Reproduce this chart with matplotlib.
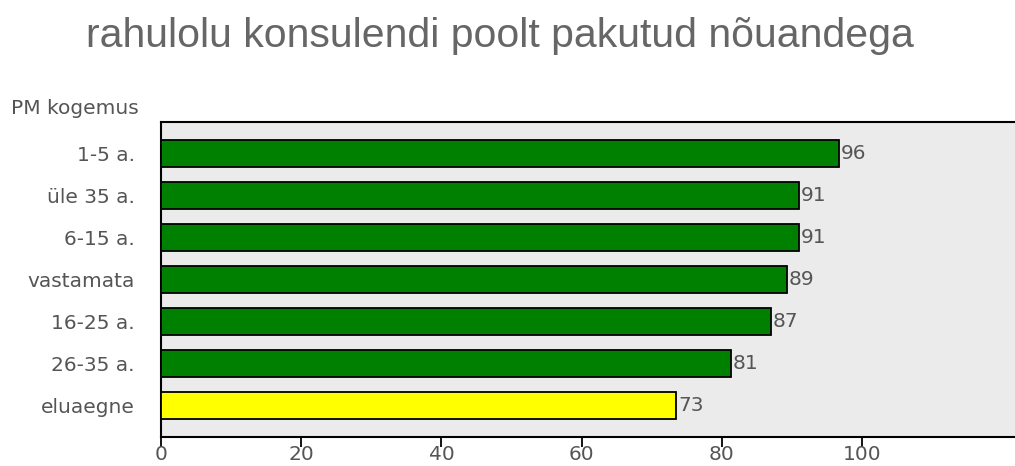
import matplotlib
matplotlib.use("Agg")
import matplotlib.pyplot as plt

categories = ["1-5 a.", "üle 35 a.", "6-15 a.", "vastamata", "16-25 a.", "26-35 a.", "eluaegne"]
values = [96.7, 91.0, 91.0, 89.3, 87.0, 81.3, 73.5]
value_labels = ["96", "91", "91", "89", "87", "81", "73"]
bar_colors = ["#008000"] * 6 + ["#FFFF00"]
x_ticks = [0, 20, 40, 60, 80, 100]
title = "rahulolu konsulendi poolt pakutud nõuandega"
axis_caption = "PM kogemus"

W, H = 1015, 466
fig = plt.figure(figsize=(W / 100, H / 100), dpi=100)
fig.patch.set_facecolor("white")
ax = fig.add_axes([161 / W, (H - 437) / H, (W - 161) / W, (437 - 122) / H])
ax.set_facecolor("#EBEBEB")

ypos = list(range(len(categories)))
ax.barh(ypos, values, height=0.64, color=bar_colors, edgecolor="black", linewidth=1.3, zorder=3)
ax.set_ylim(len(categories) - 0.25, -0.75)
ax.set_xlim(0, (W - 161) / 7.01)

txtcol = "#555555"
fs = 14.5
for y, v, lab in zip(ypos, values, value_labels):
    ax.text(v + 0.3, y, lab, va="center", ha="left", fontsize=fs, color=txtcol,
            family="DejaVu Sans", zorder=4)

ax.set_yticks(ypos)
ax.set_yticklabels(categories, fontsize=fs, color=txtcol, family="DejaVu Sans")
ax.tick_params(axis="y", length=0, pad=19)
ax.set_xticks(x_ticks)
ax.set_xticklabels([str(t) for t in x_ticks], fontsize=fs, color=txtcol, family="DejaVu Sans")
ax.tick_params(axis="x", length=7, width=1.3, color="black", pad=-1, direction="out")

for s in ["left", "bottom", "top"]:
    ax.spines[s].set_color("black")
    ax.spines[s].set_linewidth(1.5)
ax.spines["right"].set_visible(False)

fig.text(500 / W, 1 - 47 / H, title, ha="center", va="baseline", fontsize=29.5,
         color="#666666", family="Liberation Sans")
fig.text(11 / W, 1 - 108 / H, axis_caption, ha="left", va="center", fontsize=fs,
         color=txtcol, family="DejaVu Sans")

fig.savefig("out.png", dpi=100, facecolor="white")
